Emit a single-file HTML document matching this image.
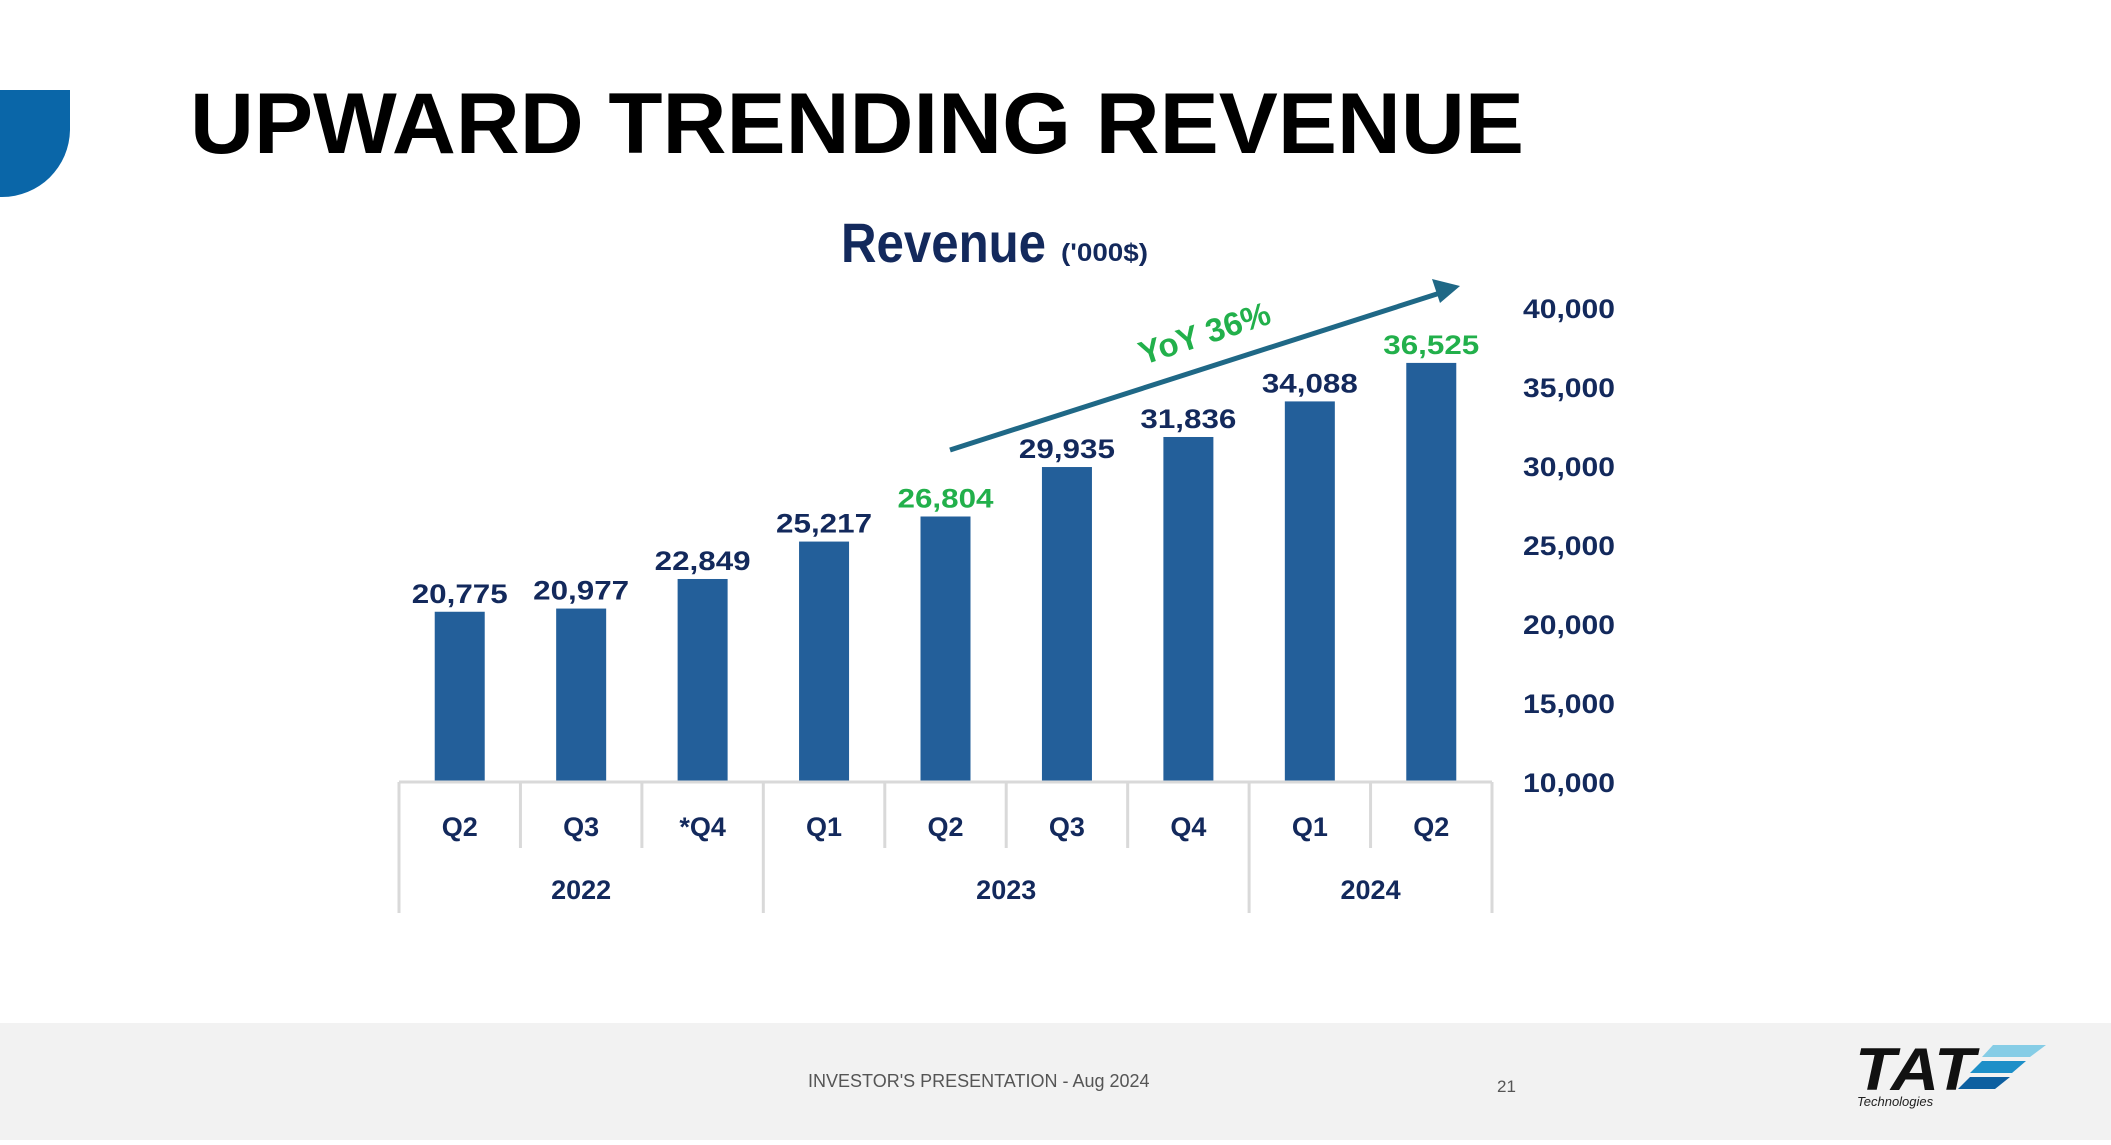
<!DOCTYPE html>
<html><head><meta charset="utf-8"><style>
html,body{margin:0;padding:0;background:#fff;}
body{width:2111px;height:1140px;overflow:hidden;position:relative;font-family:"Liberation Sans",sans-serif;}
</style></head><body>
<svg width="2111" height="1140" viewBox="0 0 2111 1140" xmlns="http://www.w3.org/2000/svg">
<path d="M0 90 H70 V130 A68 68 0 0 1 2 197 H0 Z" fill="#0a66a8"/>
<text x="190" y="153" font-size="86" font-weight="bold" fill="#000" textLength="1334" lengthAdjust="spacingAndGlyphs">UPWARD TRENDING REVENUE</text>
<text x="841" y="262" font-size="56" font-weight="bold" fill="#13295c" textLength="205" lengthAdjust="spacingAndGlyphs">Revenue</text>
<text x="1061" y="261" font-size="25" font-weight="bold" fill="#13295c" textLength="87" lengthAdjust="spacingAndGlyphs">('000$)</text>
<g id="chart"></g>
<line x1="950" y1="450" x2="1440" y2="293" stroke="#1f6886" stroke-width="5"/>
<polygon points="1460,286 1432,279 1440,303" fill="#1f6886"/>
<text x="1208" y="344" font-size="33" font-weight="bold" fill="#22b04b" text-anchor="middle" transform="rotate(-18 1208 344)">YoY 36%</text>
<rect x="0" y="1023" width="2111" height="117" fill="#f2f2f2"/>
<text x="808" y="1087" font-size="18" fill="#555">INVESTOR'S PRESENTATION - Aug 2024</text>
<text x="1497" y="1092" font-size="17" fill="#555">21</text>
<g>
<text x="1855" y="1090" font-size="60" font-weight="bold" font-style="italic" fill="#111" textLength="120" lengthAdjust="spacingAndGlyphs">TAT</text>
<polygon points="1993,1045 2046,1045 2030,1057 1982,1057" fill="#86cde6"/>
<polygon points="1982,1061 2026,1061 2012,1073 1970,1073" fill="#1d8fc8"/>
<polygon points="1970,1077 2010,1077 1995,1089 1958,1089" fill="#0d5fa0"/>
<text x="1857" y="1106" font-size="13" font-style="italic" fill="#222">Technologies</text>
</g>
</svg>
<script>
const categories = ["Q2","Q3","*Q4","Q1","Q2","Q3","Q4","Q1","Q2"];
const values = [20775,20977,22849,25217,26804,29935,31836,34088,36525];
const valueLabels = ["20,775","20,977","22,849","25,217","26,804","29,935","31,836","34,088","36,525"];
const highlighted = [false,false,false,false,true,false,false,false,true];
const years = ["2022","2023","2024"];
const yearSpans = [3,4,2];
const yTicks = [10000,15000,20000,25000,30000,35000,40000];
const yTickLabels = ["10,000","15,000","20,000","25,000","30,000","35,000","40,000"];

const NS="http://www.w3.org/2000/svg";
const g=document.getElementById('chart');
const left=399,right=1492,base=782,top40=308,yMin=10000,yMax=40000;
const cw=(right-left)/categories.length;
function y(v){return base-(v-yMin)/(yMax-yMin)*(base-top40);}
function x(i){return left+cw*(i+0.5);}
function mk(t,a){const e=document.createElementNS(NS,t);for(const k in a)e.setAttribute(k,a[k]);g.appendChild(e);return e;}
yTicks.forEach((t,i)=>{
  const e=mk('text',{x:1523,y:y(t)+10,'font-size':27,'font-weight':'bold',fill:'#13295c',textLength:92,lengthAdjust:'spacingAndGlyphs'});
  
  
  e.textContent=yTickLabels[i];
});
values.forEach((v,i)=>{
  const r=mk('rect',{x:x(i)-25,y:y(v),width:50,height:base-y(v),fill:'#235f9a'});
  
  
  const t=mk('text',{x:x(i),y:y(v)-9,'text-anchor':'middle','font-size':27,'font-weight':'bold',fill:highlighted[i]?'#22b04b':'#13295c',textLength:96,lengthAdjust:'spacingAndGlyphs'});
  
  
  t.textContent=valueLabels[i];
  const c=mk('text',{x:x(i),y:836,'text-anchor':'middle','font-size':27,'font-weight':'bold',fill:'#13295c'});
  
  
  c.textContent=categories[i];
});
const gl=mk('line',{x1:left,y1:base,x2:right,y2:base,stroke:'#d9d9d9','stroke-width':3});


let ci=0;
const yb=[0];
yearSpans.forEach(s=>{ci+=s;yb.push(ci);});
for(let i=0;i<=categories.length;i++){
  const full=yb.includes(i);
  const l=mk('line',{x1:left+cw*i,y1:base,x2:left+cw*i,y2:full?913:848,stroke:'#d9d9d9','stroke-width':3});
  
  
}
years.forEach((yr,i)=>{
  const cx=left+cw*(yb[i]+yb[i+1])/2;
  const t=mk('text',{x:cx,y:899,'text-anchor':'middle','font-size':27,'font-weight':'bold',fill:'#13295c'});
  
  
  t.textContent=yr;
});
</script>
</body></html>
